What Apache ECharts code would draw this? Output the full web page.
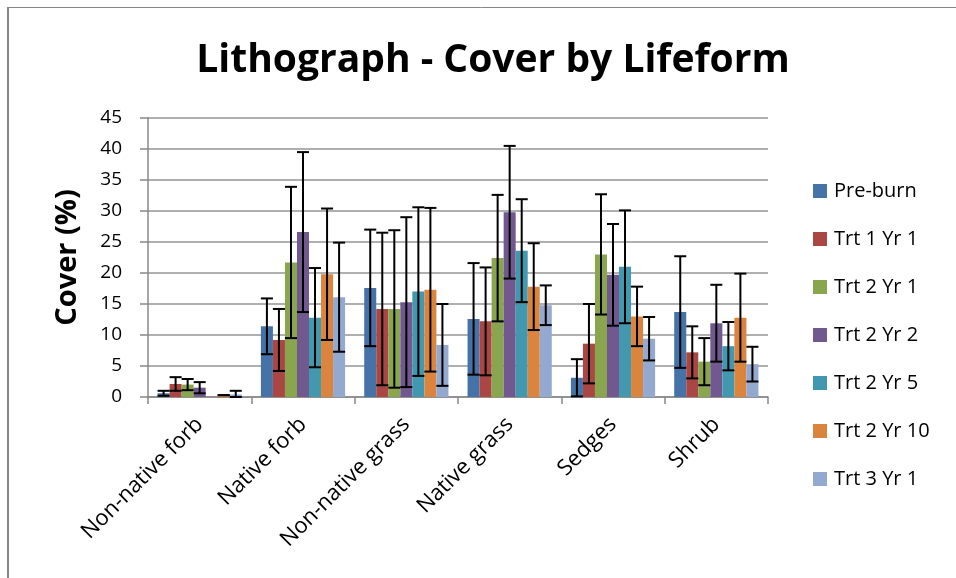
<!DOCTYPE html>
<html>
<head>
<meta charset="utf-8">
<script src="https://cdn.jsdelivr.net/npm/echarts@6/dist/echarts.min.js"></script>
<style>
html,body{margin:0;padding:0;background:#fff;}
#chart{width:956px;height:578px;}
</style>
</head>
<body>
<div id="chart"></div>
<script>
var categories = ['Non-native forb','Native forb','Non-native grass','Native grass','Sedges','Shrub'];
var seriesNames = ['Pre-burn','Trt 1 Yr 1','Trt 2 Yr 1','Trt 2 Yr 2','Trt 2 Yr 5','Trt 2 Yr 10','Trt 3 Yr 1'];
var colors = ['#4572A7','#AA4643','#89A54E','#71588F','#4198AF','#DB843D','#93A9CF'];

var preBurn   = [0.6, 11.4, 17.6, 12.6, 3.1, 13.7];
var trt1yr1   = [2.1, 9.2, 14.2, 12.2, 8.6, 7.2];
var trt2yr1   = [2.0, 21.7, 14.2, 22.4, 23.0, 5.7];
var trt2yr2   = [1.5, 26.6, 15.3, 29.8, 19.7, 11.9];
var trt2yr5   = [0, 12.8, 17.0, 23.6, 21.0, 8.2];
var trt2yr10  = [0.3, 19.8, 17.3, 17.8, 13.0, 12.8];
var trt3yr1   = [0.4, 16.1, 8.4, 14.8, 9.4, 5.3];

var errPreBurn  = [0.4, 4.5, 9.4, 9.0, 3.0, 9.0];
var errTrt1yr1  = [1.1, 5.0, 12.3, 8.7, 6.4, 4.2];
var errTrt2yr1  = [0.9, 12.2, 12.7, 10.2, 9.7, 3.8];
var errTrt2yr2  = [0.9, 12.9, 13.7, 10.7, 8.2, 6.2];
var errTrt2yr5  = [0, 8.0, 13.6, 8.3, 9.1, 3.9];
var errTrt2yr10 = [0, 10.6, 13.2, 7.0, 4.8, 7.1];
var errTrt3yr1  = [0.6, 8.8, 6.6, 3.2, 3.5, 2.8];

var yTicks = [0,5,10,15,20,25,30,35,40,45];

var values = [preBurn,trt1yr1,trt2yr1,trt2yr2,trt2yr5,trt2yr10,trt3yr1];
var errors = [errPreBurn,errTrt1yr1,errTrt2yr1,errTrt2yr2,errTrt2yr5,errTrt2yr10,errTrt3yr1];

var GAP = 0.185;
var FONT = '"Open Sans", "Noto Sans", sans-serif';

var series = [];
values.forEach(function(vals, si){
  series.push({
    type:'bar', name: seriesNames[si], data: vals,
    barGap:'0%', barCategoryGap:(GAP*100)+'%',
    itemStyle:{color: colors[si]},
    z:2
  });
});
values.forEach(function(vals, si){
  var data = vals.map(function(v, ci){ return [ci, v, errors[si][ci]]; });
  series.push({
    type:'custom', name: seriesNames[si], data: data, z:5,
    encode:{x:0, y:1},
    renderItem: function(params, api){
      var ci = api.value(0), v = api.value(1), e = api.value(2);
      if (v === 0 && e === 0) return null;
      var bandW = api.size([1,0])[0];
      var bw = bandW*(1-GAP)/7;
      var cx = api.coord([ci, 0])[0] + (si-3)*bw;
      var top = api.coord([ci, v+e])[1];
      var bot = api.coord([ci, Math.max(v-e,0)])[1];
      var hw = bw/2;
      var st = {stroke:'#000', lineWidth:2, fill:null};
      return {type:'group', children:[
        {type:'line', shape:{x1:cx,y1:top,x2:cx,y2:bot}, style:st},
        {type:'line', shape:{x1:cx-hw,y1:top,x2:cx+hw,y2:top}, style:st},
        {type:'line', shape:{x1:cx-hw,y1:bot,x2:cx+hw,y2:bot}, style:st}
      ]};
    }
  });
});

var chart = echarts.init(document.getElementById('chart'));
chart.setOption({
  animation:false,
  backgroundColor:'#fff',
  title:{
    text:'Lithograph - Cover by Lifeform', left:488, top:36, textAlign:'center',
    textStyle:{fontFamily:FONT, fontWeight:'bold', fontSize:39, color:'#000'}
  },
  legend:{
    data: seriesNames, orient:'vertical', left:808, top:176,
    itemWidth:14, itemHeight:14, itemGap:28,
    icon:'rect',
    textStyle:{fontFamily:FONT, fontSize:20, color:'#000', padding:[0,0,0,2]}
  },
  grid:{left:148, right:188, top:118, bottom:181},
  xAxis:{
    type:'category', data: categories,
    axisLine:{lineStyle:{color:'#888', width:1.5}},
    axisTick:{show:true, length:7, lineStyle:{color:'#888', width:1.5}},
    axisLabel:{rotate:45, fontFamily:FONT, fontSize:22, color:'#000', margin:24, interval:0}
  },
  yAxis:{
    type:'value', min:0, max:45, interval:5,
    name:'Cover (%)', nameLocation:'middle', nameGap:66, nameRotate:90,
    nameTextStyle:{fontFamily:FONT, fontWeight:'bold', fontSize:29, color:'#000'},
    axisLine:{show:true, lineStyle:{color:'#888', width:1.5}},
    axisTick:{show:true, length:8, lineStyle:{color:'#888', width:1.5}},
    axisLabel:{fontFamily:FONT, fontSize:19, color:'#000', margin:26,
      formatter:function(v){ return yTicks.indexOf(v) >= 0 ? String(v) : ''; }},
    splitLine:{lineStyle:{color:'#959595', width:1.5}}
  },
  graphic:[
    {type:'line', shape:{x1:8,y1:7,x2:8,y2:578}, style:{stroke:'#868686', lineWidth:2}},
    {type:'line', shape:{x1:7,y1:7.5,x2:956,y2:7.5}, style:{stroke:'#868686', lineWidth:1}}
  ],
  series: series
});
</script>
</body>
</html>
